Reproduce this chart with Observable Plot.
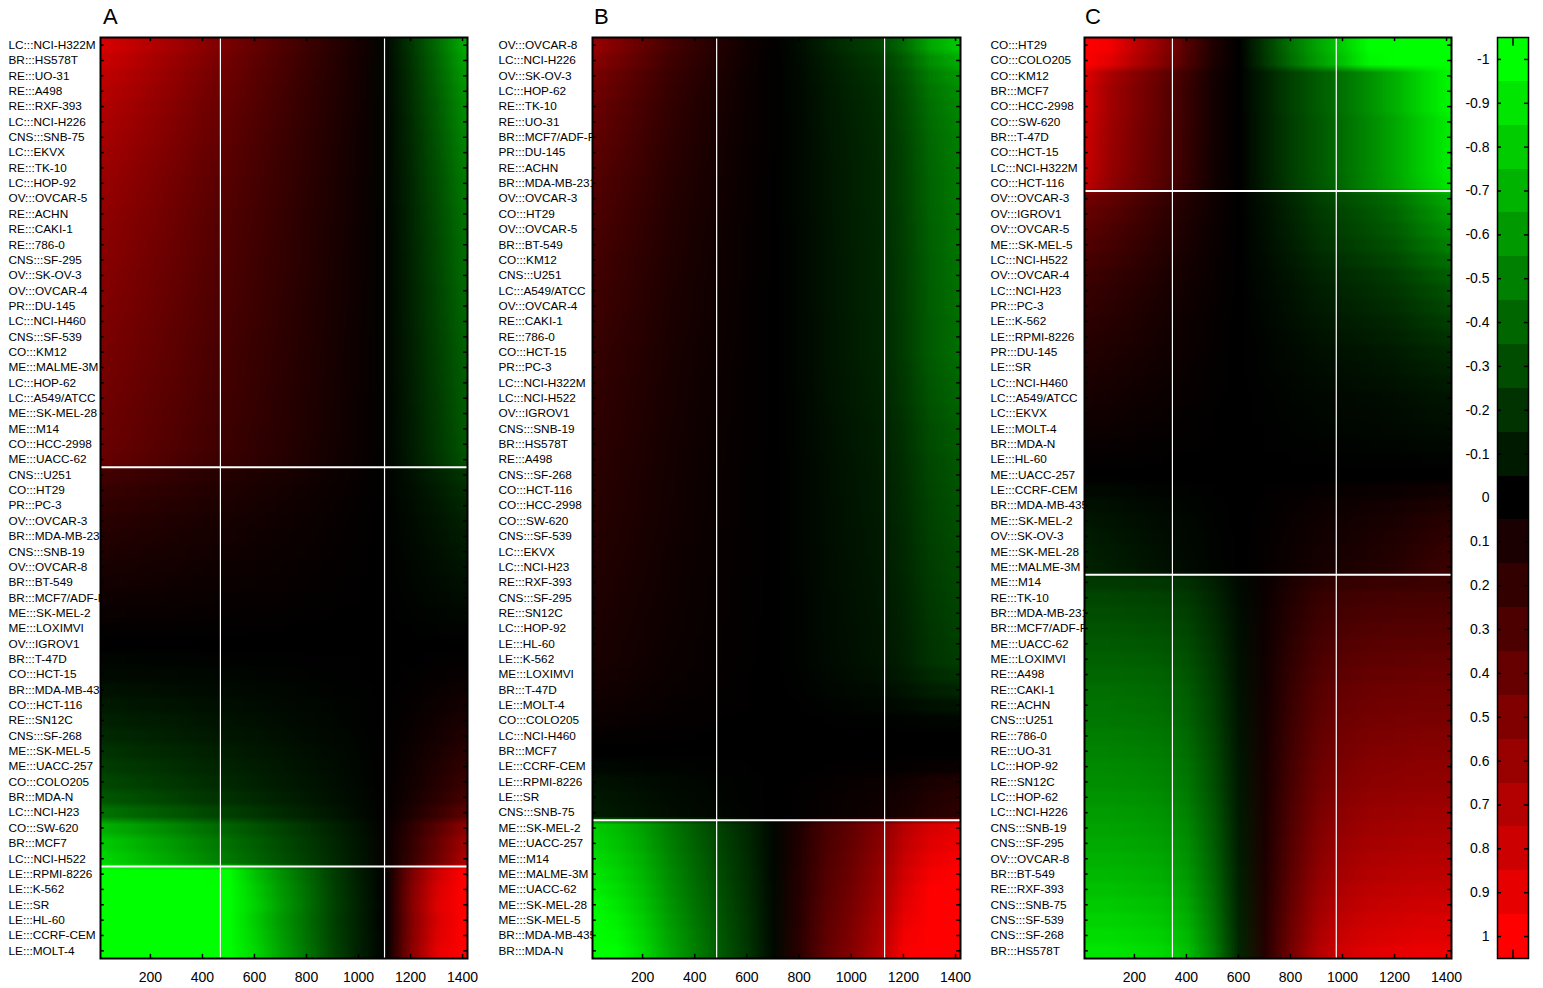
<!DOCTYPE html>
<html><head><meta charset="utf-8">
<script src="https://cdn.jsdelivr.net/npm/d3@7"></script>
<script src="https://cdn.jsdelivr.net/npm/@observablehq/plot@0.6"></script>
<style>
body{margin:0;background:#fff;font-family:"Liberation Sans",Arial,sans-serif;}
#root{position:relative;width:1543px;height:988px;overflow:hidden;background:#fff}
.panel{position:absolute;top:0}
.letter{position:absolute;top:6px;font-size:22px;line-height:22px;color:#000}
</style></head><body><div id="root"></div>
<script>
// ---------- data ----------
const labelsA = ["LC:::NCI-H322M","BR:::HS578T","RE:::UO-31","RE:::A498","RE:::RXF-393","LC:::NCI-H226","CNS:::SNB-75","LC:::EKVX","RE:::TK-10","LC:::HOP-92","OV:::OVCAR-5","RE:::ACHN","RE:::CAKI-1","RE:::786-0","CNS:::SF-295","OV:::SK-OV-3","OV:::OVCAR-4","PR:::DU-145","LC:::NCI-H460","CNS:::SF-539","CO:::KM12","ME:::MALME-3M","LC:::HOP-62","LC:::A549/ATCC","ME:::SK-MEL-28","ME:::M14","CO:::HCC-2998","ME:::UACC-62","CNS:::U251","CO:::HT29","PR:::PC-3","OV:::OVCAR-3","BR:::MDA-MB-231","CNS:::SNB-19","OV:::OVCAR-8","BR:::BT-549","BR:::MCF7/ADF-RES","ME:::SK-MEL-2","ME:::LOXIMVI","OV:::IGROV1","BR:::T-47D","CO:::HCT-15","BR:::MDA-MB-435","CO:::HCT-116","RE:::SN12C","CNS:::SF-268","ME:::SK-MEL-5","ME:::UACC-257","CO:::COLO205","BR:::MDA-N","LC:::NCI-H23","CO:::SW-620","BR:::MCF7","LC:::NCI-H522","LE:::RPMI-8226","LE:::K-562","LE:::SR","LE:::HL-60","LE:::CCRF-CEM","LE:::MOLT-4"];
const labelsB = ["OV:::OVCAR-8","LC:::NCI-H226","OV:::SK-OV-3","LC:::HOP-62","RE:::TK-10","RE:::UO-31","BR:::MCF7/ADF-RES","PR:::DU-145","RE:::ACHN","BR:::MDA-MB-231","OV:::OVCAR-3","CO:::HT29","OV:::OVCAR-5","BR:::BT-549","CO:::KM12","CNS:::U251","LC:::A549/ATCC","OV:::OVCAR-4","RE:::CAKI-1","RE:::786-0","CO:::HCT-15","PR:::PC-3","LC:::NCI-H322M","LC:::NCI-H522","OV:::IGROV1","CNS:::SNB-19","BR:::HS578T","RE:::A498","CNS:::SF-268","CO:::HCT-116","CO:::HCC-2998","CO:::SW-620","CNS:::SF-539","LC:::EKVX","LC:::NCI-H23","RE:::RXF-393","CNS:::SF-295","RE:::SN12C","LC:::HOP-92","LE:::HL-60","LE:::K-562","ME:::LOXIMVI","BR:::T-47D","LE:::MOLT-4","CO:::COLO205","LC:::NCI-H460","BR:::MCF7","LE:::CCRF-CEM","LE:::RPMI-8226","LE:::SR","CNS:::SNB-75","ME:::SK-MEL-2","ME:::UACC-257","ME:::M14","ME:::MALME-3M","ME:::UACC-62","ME:::SK-MEL-28","ME:::SK-MEL-5","BR:::MDA-MB-435","BR:::MDA-N"];
const labelsC = ["CO:::HT29","CO:::COLO205","CO:::KM12","BR:::MCF7","CO:::HCC-2998","CO:::SW-620","BR:::T-47D","CO:::HCT-15","LC:::NCI-H322M","CO:::HCT-116","OV:::OVCAR-3","OV:::IGROV1","OV:::OVCAR-5","ME:::SK-MEL-5","LC:::NCI-H522","OV:::OVCAR-4","LC:::NCI-H23","PR:::PC-3","LE:::K-562","LE:::RPMI-8226","PR:::DU-145","LE:::SR","LC:::NCI-H460","LC:::A549/ATCC","LC:::EKVX","LE:::MOLT-4","BR:::MDA-N","LE:::HL-60","ME:::UACC-257","LE:::CCRF-CEM","BR:::MDA-MB-435","ME:::SK-MEL-2","OV:::SK-OV-3","ME:::SK-MEL-28","ME:::MALME-3M","ME:::M14","RE:::TK-10","BR:::MDA-MB-231","BR:::MCF7/ADF-RES","ME:::UACC-62","ME:::LOXIMVI","RE:::A498","RE:::CAKI-1","RE:::ACHN","CNS:::U251","RE:::786-0","RE:::UO-31","LC:::HOP-92","RE:::SN12C","LC:::HOP-62","LC:::NCI-H226","CNS:::SNB-19","CNS:::SF-295","OV:::OVCAR-8","BR:::BT-549","RE:::RXF-393","CNS:::SNB-75","CNS:::SF-539","CNS:::SF-268","BR:::HS578T"];

// first row of each cluster (white separators are drawn above them)
const groupStartsA = [0, 28, 54];
const groupStartsB = [0, 51];
const groupStartsC = [0, 10, 35];

// column profiles of each cluster, read at x = 0, 100, ..., 1400
const colX = [0,100,200,300,400,500,600,700,800,900,1000,1100,1200,1300,1400];
const profileA1 = [1,0.92,0.83,0.74,0.64,0.55,0.46,0.37,0.28,0.19,0.10,-0.03,-0.25,-0.50,-0.78];
const profileA2 = [1,0.92,0.83,0.74,0.64,0.55,0.46,0.37,0.28,0.19,0.10,-0.03,-0.25,-0.50,-0.78];
const profileA3 = [-1.8,-1.7,-1.6,-1.45,-1.3,-1.05,-0.8,-0.6,-0.43,-0.25,-0.12,0.0,0.5,0.85,1.2];
const profileB1 = [0.6,0.5,0.39,0.28,0.2,0.13,0.06,0.01,-0.05,-0.13,-0.2,-0.26,-0.42,-0.65,-0.78];
const profileB2 = [-0.95,-0.87,-0.74,-0.57,-0.43,-0.3,-0.18,-0.03,0.15,0.33,0.45,0.6,0.85,1.0,1.05];
const profileC1 = [0.85,0.64,0.5,0.38,0.22,0.08,0.0,-0.12,-0.24,-0.34,-0.43,-0.54,-0.66,-0.8,-0.92];
const profileC2 = [0.45,0.38,0.3,0.22,0.13,0.06,0.0,-0.07,-0.15,-0.24,-0.3,-0.36,-0.43,-0.55,-0.66];
const profileC3 = [-0.9,-0.9,-0.88,-0.85,-0.75,-0.5,-0.15,0.15,0.45,0.7,0.82,0.88,0.9,0.92,0.92];

// row weights for the left part (same sign as the profile's first value) and the right part
const leftA = [0.85,0.80,0.76,0.73,0.70,0.68,0.66,0.64,0.62,0.60,0.59,0.57,0.56,0.55,0.54,0.53,0.52,0.51,0.50,0.49,0.48,0.47,0.46,0.45,0.44,0.43,0.42,0.40,
  0.26,0.22,0.19,0.16,0.14,0.12,0.10,0.08,0.06,0.04,0.02,0.00,-0.02,-0.04,-0.07,-0.10,-0.13,-0.16,-0.20,-0.24,-0.28,-0.34,-0.45,-0.70,-0.80,-0.85,
  0.95,1.0,1.03,1.0,1.03,1.06];
const rightA = leftA;
const leftB = [1,0.9,0.8,0.75,0.7,0.67,0.64,0.61,0.58,0.55,0.53,0.51,0.49,0.47,0.45,0.44,0.42,0.41,0.39,0.38,0.36,0.35,0.34,0.33,0.32,0.31,0.3,0.29,0.28,0.275,
  0.27,0.26,0.25,0.24,0.23,0.22,0.21,0.2,0.19,0.18,0.17,0.15,0.13,0.1,0.07,0.03,0.0,-0.05,-0.12,-0.16,-0.18,
  0.85,0.88,0.92,0.96,1.0,1.04,1.08,1.12,1.15];
const rightB = [1,0.85,0.75,0.7,0.67,0.65,0.63,0.62,0.61,0.6,0.6,0.59,0.58,0.58,0.57,0.57,0.56,0.56,0.55,0.55,0.55,0.53,0.51,0.5,0.48,0.46,0.45,0.43,0.42,0.41,
  0.4,0.39,0.38,0.37,0.36,0.35,0.34,0.33,0.32,0.31,0.3,0.25,0.18,0.1,0.03,0.0,0.0,-0.05,-0.15,-0.2,-0.22,
  0.85,0.88,0.92,0.96,1.0,1.04,1.08,1.12,1.15];
const leftC = [1.5,1.4,1.05,1.0,1.0,0.98,0.96,0.95,0.93,0.9,
  1.0,0.9,0.8,0.72,0.64,0.56,0.5,0.45,0.4,0.36,0.32,0.28,0.24,0.2,0.16,0.12,0.08,0.04,0.0,-0.08,-0.15,-0.2,-0.24,-0.27,-0.3,
  0.25,0.3,0.33,0.36,0.39,0.42,0.45,0.48,0.5,0.52,0.55,0.57,0.6,0.62,0.65,0.68,0.71,0.74,0.77,0.8,0.84,0.88,0.92,0.96,1.0];
const rightC = [1.9,1.8,1.05,1.05,1.05,1.0,1.0,1.0,1.0,0.98,
  1.0,0.92,0.84,0.76,0.66,0.55,0.48,0.42,0.36,0.3,0.24,0.2,0.16,0.12,0.1,0.08,0.05,0.02,0.0,-0.1,-0.18,-0.24,-0.28,-0.32,-0.35,
  0.25,0.3,0.33,0.36,0.39,0.42,0.45,0.48,0.5,0.52,0.55,0.57,0.6,0.62,0.65,0.68,0.71,0.74,0.77,0.8,0.84,0.88,0.92,0.96,1.0];

// vertical separators (x units)
const vLinesA = [469, 1100];
const vLinesB = [484, 1128];
const vLinesC = [346, 976];

const xTicks = [200,400,600,800,1000,1200,1400];
const colorbarValues = [-1,-0.9,-0.8,-0.7,-0.6,-0.5,-0.4,-0.3,-0.2,-0.1,0,0.1,0.2,0.3,0.4,0.5,0.6,0.7,0.8,0.9,1];

// ---------- drawing ----------
const FONT = "'Liberation Sans', Arial, sans-serif";
const colorScale = {type: "linear", domain: [-1, 0, 1], range: ["#00ff00", "#000000", "#ff0000"], clamp: true};
const XMIN = 8, XMAX = 1419;
const SUB = 2; // raster sub-rows per cell line (keeps cluster edges crisp)

function cellValues(profiles, groupStarts, left, right) {
  const rows = [];
  for (let r = 0; r < left.length; r++) {
    let g = 0;
    while (g + 1 < groupStarts.length && groupStarts[g + 1] <= r) g++;
    const p = profiles[g];
    rows.push(p.map(v => v * (Math.sign(v) === Math.sign(p[0]) ? left[r] : right[r])));
  }
  return rows;
}

function panel({labels, profiles, groupStarts, left, right, vLines, pos, marginLeft, marginRight, labelX}) {
  const n = labels.length;
  const rowsVals = cellValues(profiles, groupStarts, left, right);
  const grid = [];
  rowsVals.forEach(row => { for (let k = 0; k < SUB; k++) grid.push(...row); });
  const rows = labels.map((l, i) => ({label: l, y: i + 0.5}));
  const step = colX[1] - colX[0];
  const svg = Plot.plot({
    width: 490, height: 988, marginTop: 37, marginBottom: 30, marginLeft, marginRight,
    style: {fontFamily: FONT, background: "transparent", color: "#000"},
    x: {domain: [XMIN, XMAX]},
    y: {domain: [0, n], reverse: true, axis: null},
    color: colorScale,
    marks: [
      Plot.text(rows, {y: "y", text: "label", frameAnchor: "left", dx: -(marginLeft - labelX), textAnchor: "start", fontSize: 11.8, fill: "#000"}),
      Plot.raster(grid, {width: colX.length, height: n * SUB,
        x1: colX[0] - step / 2, x2: colX[colX.length - 1] + step / 2, y1: 0, y2: n,
        fill: d => d, clip: true}),
      Plot.ruleX(vLines, {stroke: "white", strokeWidth: 1.2}),
      Plot.ruleY(groupStarts.slice(1), {stroke: "white", strokeWidth: 2}),
      Plot.ruleY(rows, {y: "y", x1: XMIN, x2: XMIN + 15, stroke: "#000", strokeWidth: 1.5}),
      Plot.ruleY(rows, {y: "y", x1: XMAX - 15, x2: XMAX, stroke: "#000", strokeWidth: 1.5}),
      Plot.ruleX(xTicks, {x: d => d, y1: 0, y2: 0.27, stroke: "#000", strokeWidth: 1.5}),
      Plot.ruleX(xTicks, {x: d => d, y1: n - 0.27, y2: n, stroke: "#000", strokeWidth: 1.5}),
      Plot.axisX({ticks: xTicks, tickSize: 0, tickPadding: 14, fontSize: 14, anchor: "bottom", label: null, tickFormat: d => String(d)}),
      Plot.frame({stroke: "#000", strokeWidth: 2})
    ]
  });
  svg.classList.add("panel");
  svg.style.left = pos + "px";
  return svg;
}

const root = document.getElementById("root");
root.appendChild(panel({labels: labelsA, profiles: [profileA1, profileA2, profileA3], groupStarts: groupStartsA, left: leftA, right: rightA, vLines: vLinesA, pos: 0, marginLeft: 100, marginRight: 23, labelX: 8}));
root.appendChild(panel({labels: labelsB, profiles: [profileB1, profileB2], groupStarts: groupStartsB, left: leftB, right: rightB, vLines: vLinesB, pos: 490, marginLeft: 102, marginRight: 20, labelX: 8}));
root.appendChild(panel({labels: labelsC, profiles: [profileC1, profileC2, profileC3], groupStarts: groupStartsC, left: leftC, right: rightC, vLines: vLinesC, pos: 982, marginLeft: 102, marginRight: 21, labelX: 8}));

// colour bar
const cb = Plot.plot({
  width: 83, height: 988, marginTop: 37, marginBottom: 30, marginLeft: 37, marginRight: 15,
  style: {fontFamily: FONT, background: "transparent", color: "#000"},
  x: {domain: [0, 1], axis: null},
  y: {domain: [-1.05, 1.05], reverse: true},
  color: colorScale,
  marks: [
    Plot.rect(colorbarValues, {x1: 0, x2: 1, y1: d => d - 0.05, y2: d => d + 0.05, fill: d => d, shapeRendering: "crispEdges"}),
    Plot.ruleY(colorbarValues, {y: d => d, x1: 0, x2: 0.13, stroke: "#000", strokeWidth: 1.5}),
    Plot.ruleY(colorbarValues, {y: d => d, x1: 0.87, x2: 1, stroke: "#000", strokeWidth: 1.5}),
    Plot.ruleX([0.5], {x: d => d, y1: -1.05, y2: -1.03, stroke: "#000", strokeWidth: 1.5}),
    Plot.ruleX([0.5], {x: d => d, y1: 1.03, y2: 1.05, stroke: "#000", strokeWidth: 1.5}),
    Plot.axisY({ticks: colorbarValues, tickSize: 0, tickPadding: 8, fontSize: 14, label: null, tickFormat: d => String(d)}),
    Plot.frame({stroke: "#000", strokeWidth: 1.5})
  ]
});
cb.classList.add("panel");
cb.style.left = "1460px";
root.appendChild(cb);

// panel letters
[["A", 103], ["B", 594], ["C", 1085]].forEach(([t, x]) => {
  const d = document.createElement("div");
  d.className = "letter";
  d.style.left = x + "px";
  d.textContent = t;
  root.appendChild(d);
});
</script>
</body></html>
